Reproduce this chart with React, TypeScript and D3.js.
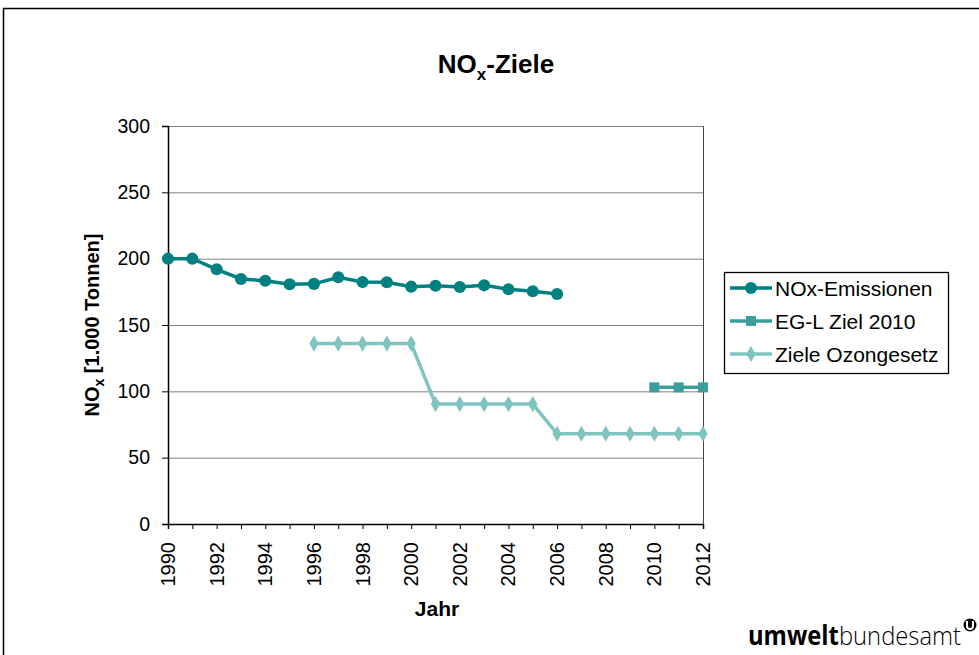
import React, { useEffect, useRef } from "react";
import * as d3 from "d3";

const years = d3.range(1990, 2013);
const emissionYears = d3.range(1990, 2007);
const emissions = [200, 200, 192, 184.7, 183.4, 180.7, 181, 186, 182.4, 182.2, 178.9, 179.6, 178.6, 179.9, 176.9, 175.4, 173.4];
const egYears = [2010, 2011, 2012];
const egTarget = [103, 103, 103];
const ozonYears = d3.range(1996, 2013);
const ozonTargets = [136, 136, 136, 136, 136, 90.4, 90.4, 90.4, 90.4, 90.4, 68, 68, 68, 68, 68, 68, 68];
const yTicks = [0, 50, 100, 150, 200, 250, 300];
const xTickLabels = d3.range(1990, 2013, 2);
const seriesNames = ["NOx-Emissionen", "EG-L Ziel 2010", "Ziele Ozongesetz"];
const seriesColors = ["#008080", "#3a9f9c", "#80c4c1"];

const W = 979;
const H = 655;
const font = "'Liberation Sans', Arial, sans-serif";

const App = () => {
  const svgRef = useRef<SVGSVGElement>(null);

  useEffect(() => {
    const svg = d3.select(svgRef.current);
    svg.selectAll("*").remove();

    const left = 168, right = 703, top = 126, bottom = 524;
    const x = d3.scaleLinear().domain([1990, 2012]).range([left, right]);
    const y = d3.scaleLinear().domain([0, 300]).range([bottom, top]);

    svg.append("rect").attr("width", W).attr("height", H).attr("fill", "#fff");

    // outer frame
    svg.append("path")
      .attr("d", `M3.5,${H} V8.5 H${W}`)
      .attr("fill", "none")
      .attr("stroke", "#000")
      .attr("stroke-width", 1.5);

    // title
    const title = svg.append("text")
      .attr("x", 496)
      .attr("y", 73)
      .attr("text-anchor", "middle")
      .attr("font-family", font)
      .attr("font-weight", "bold")
      .attr("font-size", 26);
    title.append("tspan").text("NO");
    title.append("tspan").attr("font-size", 17).attr("dy", 7).text("x");
    title.append("tspan").attr("dy", -7).text("-Ziele");

    // grid
    svg.append("g")
      .selectAll("line")
      .data(yTicks.filter((t) => t > 0))
      .join("line")
      .attr("x1", left)
      .attr("x2", right)
      .attr("y1", (d) => y(d) + 0.5)
      .attr("y2", (d) => y(d) + 0.5)
      .attr("stroke", "#7f7f7f")
      .attr("stroke-width", 1);

    svg.append("line")
      .attr("x1", right + 0.5).attr("x2", right + 0.5)
      .attr("y1", top).attr("y2", bottom)
      .attr("stroke", "#444");

    // y axis
    const yAxis = svg.append("g")
      .attr("transform", `translate(${left},0)`)
      .call(d3.axisLeft(y).tickValues(yTicks).tickSize(6).tickPadding(12).tickFormat(d3.format("d")));
    yAxis.select(".domain").attr("stroke", "#000").attr("stroke-width", 1.5);
    yAxis.selectAll("text").attr("font-family", font).attr("font-size", 19.5).attr("fill", "#000");

    // x axis
    const xAxis = svg.append("g")
      .attr("transform", `translate(0,${bottom})`)
      .call(d3.axisBottom(x).tickValues(years).tickSize(5).tickFormat(() => ""));
    xAxis.select(".domain").attr("stroke", "#000").attr("stroke-width", 1.5);

    svg.append("g")
      .selectAll("text")
      .data(xTickLabels)
      .join("text")
      .attr("transform", (d) => `translate(${x(d) + 7},${bottom + 18}) rotate(-90)`)
      .attr("text-anchor", "end")
      .attr("font-family", font)
      .attr("font-size", 20)
      .text((d) => d);

    svg.append("text")
      .attr("x", 437)
      .attr("y", 616)
      .attr("text-anchor", "middle")
      .attr("font-family", font)
      .attr("font-weight", "bold")
      .attr("font-size", 21)
      .text("Jahr");

    const yTitle = svg.append("text")
      .attr("transform", `translate(99,${(top + bottom) / 2}) rotate(-90)`)
      .attr("text-anchor", "middle")
      .attr("font-family", font)
      .attr("font-weight", "bold")
      .attr("font-size", 20);
    yTitle.append("tspan").text("NO");
    yTitle.append("tspan").attr("font-size", 14).attr("dy", 5).text("x");
    yTitle.append("tspan").attr("dy", -5).text(" [1.000 Tonnen]");

    const line = d3.line<[number, number]>().x((d) => x(d[0])).y((d) => y(d[1]));
    const symbols = [d3.symbolCircle, d3.symbolSquare, d3.symbolDiamond];
    const symSizes = [115, 100, 75];

    const drawSeries = (xs: number[], vs: number[], i: number) => {
      const pts = xs.map((yr, k) => [yr, vs[k]] as [number, number]);
      svg.append("path")
        .attr("d", line(pts))
        .attr("fill", "none")
        .attr("stroke", seriesColors[i])
        .attr("stroke-width", 3.5);
      svg.append("g")
        .selectAll("path")
        .data(pts)
        .join("path")
        .attr("transform", (d) => `translate(${x(d[0])},${y(d[1])})`)
        .attr("d", d3.symbol(symbols[i], symSizes[i])())
        .attr("fill", seriesColors[i]);
    };

    drawSeries(ozonYears, ozonTargets, 2);
    drawSeries(egYears, egTarget, 1);
    drawSeries(emissionYears, emissions, 0);

    // legend
    const lg = svg.append("g").attr("transform", "translate(724,272)");
    lg.append("rect")
      .attr("x", 0.5).attr("y", 0.5)
      .attr("width", 224).attr("height", 101)
      .attr("fill", "#fff")
      .attr("stroke", "#000")
      .attr("stroke-width", 1.3);
    seriesNames.forEach((name, i) => {
      const cy = 16 + i * 33;
      lg.append("line")
        .attr("x1", 6).attr("x2", 48)
        .attr("y1", cy).attr("y2", cy)
        .attr("stroke", seriesColors[i])
        .attr("stroke-width", 3.5);
      lg.append("path")
        .attr("transform", `translate(27,${cy})`)
        .attr("d", d3.symbol(symbols[i], symSizes[i])())
        .attr("fill", seriesColors[i]);
      lg.append("text")
        .attr("x", 51)
        .attr("y", cy + 7.5)
        .attr("font-family", font)
        .attr("font-size", 21)
        .text(name);
    });

    // logo
    const logo = svg.append("text")
      .attr("x", 748)
      .attr("y", 645)
      .attr("font-family", "'Open Sans', sans-serif")
      .attr("font-size", 26)
      .attr("textLength", 213)
      .attr("lengthAdjust", "spacingAndGlyphs");
    logo.append("tspan").attr("font-weight", "bold").text("umwelt");
    logo.append("tspan").attr("font-weight", 300).text("bundesamt");
    svg.append("circle").attr("cx", 970).attr("cy", 625).attr("r", 6.5).attr("fill", "#000");
    svg.append("path")
      .attr("d", "M967,621 V626 A3,3 0 0 0 973,626 V621")
      .attr("fill", "none")
      .attr("stroke", "#fff")
      .attr("stroke-width", 2);
  }, []);

  return (
    <svg
      ref={svgRef}
      width={W}
      height={H}
      style={{ position: "absolute", left: 0, top: 0 }}
    />
  );
};

export default App;
